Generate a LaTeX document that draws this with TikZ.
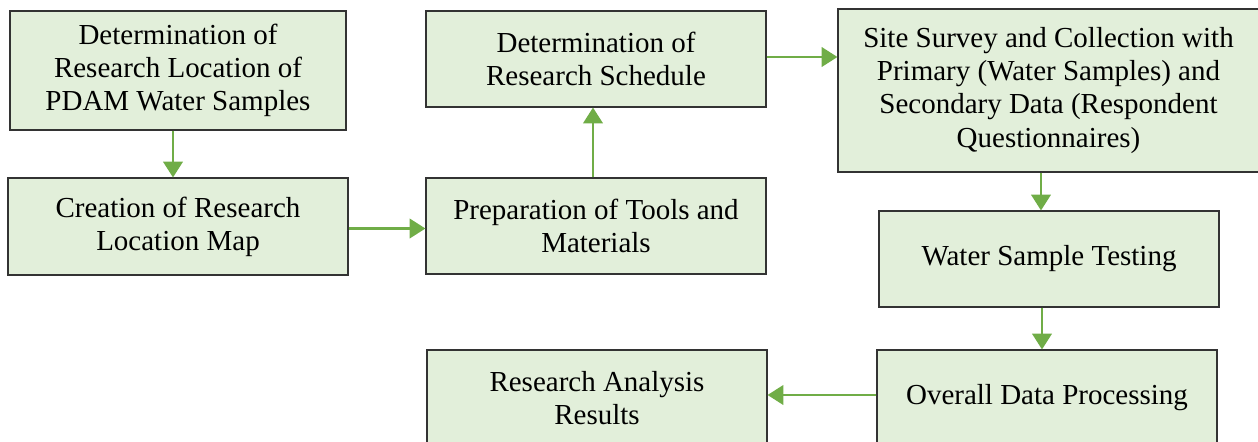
\documentclass[tikz,border=0pt]{standalone}
\usepackage{fontspec}
\setmainfont{Liberation Serif}
\usepackage{xcolor}
\usetikzlibrary{arrows.meta}

\definecolor{boxgreen}{HTML}{E2EFDA}
\definecolor{arrowgreen}{HTML}{70AD47}

\begin{document}
\begin{tikzpicture}[
        stepbox/.style={rectangle, draw=black!80, line width=0.6pt, fill=boxgreen,
            minimum width=6.8cm, minimum height=1.92cm, align=center,
            font=\fontsize{16.5}{18.8}\selectfont, inner sep=2pt},
        flow/.style={-{Triangle[length=9pt, width=11pt]}, draw=arrowgreen,
            fill=arrowgreen, line width=1.6pt}
    ]
        \useasboundingbox (0, 0) rectangle (25.16, -8.82);

        % Left column
        \node[stepbox, minimum width=6.72cm, minimum height=2.38cm] (loc) at (3.56, -1.41)
            {Determination of\\Research Location of\\PDAM Water Samples};
        \node[stepbox, minimum height=1.94cm] (map) at (3.56, -4.53)
            {Creation of Research\\Location Map};

        % Middle column
        \node[stepbox] (sched) at (11.92, -1.18) {Determination of\\Research Schedule};
        \node[stepbox] (tools) at (11.92, -4.52) {Preparation of Tools and\\Materials};
        \node[stepbox] (results) at (11.94, -7.96) {Research Analysis\\Results};

        % Right column
        \node[stepbox, minimum width=8.42cm, minimum height=3.26cm] (survey) at (20.97, -1.81)
            {Site Survey and Collection with\\Primary (Water Samples) and\\Secondary Data (Respondent\\Questionnaires)};
        \node[stepbox] (testing) at (20.98, -5.18) {Water Sample Testing};
        \node[stepbox] (process) at (20.94, -7.96) {Overall Data Processing};

        % Arrows
        \draw[flow] (loc.south) ++(-0.1, 0) coordinate (s0) -- (s0 |- map.north);
        \draw[flow] (map.east) ++(0, -0.04) coordinate (s4) -- (s4 -| tools.west);
        \draw[flow] (tools.north) ++(-0.06, 0) coordinate (s5) -- (s5 |- sched.south);
        \draw[flow] (sched.east) ++(0, 0.04) coordinate (s1) -- (s1 -| survey.west);
        \draw[flow] (survey.south -| testing.center) ++(-0.16, 0) coordinate (s2) -- (s2 |- testing.north);
        \draw[flow] (testing.south) ++(-0.14, 0) coordinate (s6) -- (s6 |- process.north);
        \draw[flow] (process.west) ++(0, 0.06) coordinate (s3) -- (s3 -| results.east);

    \end{tikzpicture}
\end{document}
